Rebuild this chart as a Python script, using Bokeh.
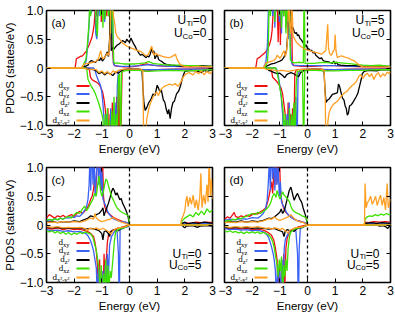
from bokeh.plotting import figure
from bokeh.layouts import column, row
from bokeh.models import Range1d, LinearAxis, FixedTicker, Span, Label, BoxAnnotation, ColumnDataSource
from bokeh.embed import file_html
from bokeh.resources import INLINE

# ---------------- tick labels / categories ----------------
ENERGY_TICKS = [-3, -2, -1, 0, 1, 2, 3]
ENERGY_TICK_LABELS = ["\u22123", "\u22122", "\u22121", "0", "1", "2", "3"]
PDOS_TICKS = [-1.0, -0.5, 0.0, 0.5, 1.0]
PDOS_TICK_LABELS = ["\u22121.0", "\u22120.5", "0", "0.5", "1.0"]
ORBITALS = ["xy", "yz", "z\u00b2", "xz", "x\u00b2-y\u00b2"]
COLORS = ["#f01010", "#3a62f5", "#000000", "#3ee000", "#ffa024"]
PANEL_TAGS = ["(a)", "(b)", "(c)", "(d)"]
U_TI = ["0", "5", "0", "0"]
U_CO = ["0", "0", "5", "5"]

# ---------------- panel (a): U_Ti=0, U_Co=0 ----------------
A_UP_XY = [(-3,0.0),(-2.0,0.0),(-1.96,0.02),(-1.92,0.16),(-1.85,0.18),(-1.78,0.2),(-1.7,0.21),(-1.62,0.26),(-1.55,0.3),(-1.5,0.36),(-1.45,0.41),(-1.4,0.48),(-1.36,0.53),(-1.32,0.62),(-1.28,0.75),(-1.25,0.95),(-1.22,1.4),(-1.18,0.9),(-1.14,1.6),(-1.1,1.1),(-1.06,1.8),(-1.02,0.8),(-0.98,1.5),(-0.94,1.2),(-0.9,2.0),(-0.86,1.3),(-0.82,0.9),(-0.78,1.7),(-0.74,1.1),(-0.7,0.7),(-0.66,1.6),(-0.62,0.4),(-0.58,0.08),(-0.54,0.04),(-0.4,0.03),(-0.2,0.02),(0,0.02),(0.2,0.03),(0.4,0.05),(0.6,0.07),(0.8,0.05),(1.0,0.04),(1.3,0.03),(1.6,0.03),(2.0,0.02),(2.5,0.02),(3,0.01)]
A_UP_YZ = [(-3,0.0),(-1.7,0.0),(-1.65,0.03),(-1.6,0.08),(-1.56,0.14),(-1.52,0.35),(-1.48,0.6),(-1.45,0.85),(-1.42,1.3),(-1.38,0.95),(-1.34,1.5),(-1.3,1.2),(-1.26,1.8),(-1.22,0.6),(-1.18,0.5),(-1.14,1.4),(-1.1,0.9),(-1.06,1.5),(-1.02,1.0),(-0.98,1.7),(-0.94,1.2),(-0.9,0.8),(-0.86,1.4),(-0.82,1.0),(-0.78,1.6),(-0.74,0.9),(-0.7,1.3),(-0.66,0.5),(-0.62,1.2),(-0.58,0.1),(-0.54,0.04),(-0.3,0.03),(0,0.03),(0.4,0.04),(0.7,0.06),(1.0,0.04),(1.5,0.03),(2.0,0.03),(2.5,0.02),(3,0.02)]
A_UP_Z2 = [(-3,0.0),(-1.7,0.0),(-1.6,0.03),(-1.5,0.05),(-1.45,0.1),(-1.38,0.13),(-1.3,0.11),(-1.22,0.1),(-1.15,0.15),(-1.08,0.13),(-1.03,0.18),(-0.98,0.12),(-0.92,0.16),(-0.86,0.22),(-0.8,0.28),(-0.76,0.2),(-0.72,0.5),(-0.69,1.5),(-0.66,0.3),(-0.62,0.35),(-0.56,0.33),(-0.5,0.37),(-0.44,0.4),(-0.37,0.42),(-0.3,0.45),(-0.25,0.48),(-0.2,0.46),(-0.15,0.44),(-0.1,0.5),(-0.05,0.47),(0.0,0.45),(0.05,0.52),(0.1,0.47),(0.15,0.42),(0.2,0.38),(0.25,0.33),(0.3,0.29),(0.35,0.25),(0.4,0.22),(0.45,0.24),(0.5,0.22),(0.55,0.2),(0.6,0.18),(0.65,0.21),(0.7,0.19),(0.75,0.24),(0.8,0.35),(0.84,0.26),(0.88,0.3),(0.92,0.16),(0.96,0.2),(1.0,0.24),(1.05,0.15),(1.1,0.13),(1.18,0.11),(1.25,0.08),(1.35,0.06),(1.5,0.05),(1.7,0.04),(2.0,0.03),(2.3,0.03),(2.6,0.04),(3,0.03)]
A_UP_XZ = [(-3,0.0),(-1.72,0.0),(-1.68,0.04),(-1.63,0.1),(-1.58,0.14),(-1.54,0.3),(-1.5,0.55),(-1.46,0.8),(-1.43,1.3),(-1.4,0.9),(-1.36,1.6),(-1.32,1.1),(-1.28,1.7),(-1.24,1.2),(-1.2,0.7),(-1.16,0.55),(-1.12,1.3),(-1.08,1.8),(-1.04,0.9),(-1.0,1.4),(-0.96,0.7),(-0.92,1.5),(-0.88,0.85),(-0.84,1.3),(-0.8,1.7),(-0.76,0.9),(-0.72,1.5),(-0.68,0.6),(-0.64,1.8),(-0.6,0.7),(-0.57,0.12),(-0.54,0.08),(-0.45,0.09),(-0.35,0.08),(-0.2,0.07),(0,0.07),(0.2,0.07),(0.4,0.08),(0.55,0.09),(0.7,0.11),(0.85,0.08),(1.0,0.07),(1.2,0.06),(1.5,0.05),(1.8,0.05),(2.1,0.04),(2.4,0.04),(2.7,0.03),(3,0.03)]
A_UP_X2Y2 = [(-3,0.0),(-1.75,0.0),(-1.7,0.03),(-1.62,0.07),(-1.5,0.08),(-1.4,0.09),(-1.3,0.1),(-1.2,0.12),(-1.12,0.16),(-1.08,0.24),(-1.04,0.3),(-1.0,0.2),(-0.95,0.16),(-0.9,0.19),(-0.85,0.22),(-0.8,0.26),(-0.75,0.22),(-0.7,0.6),(-0.66,1.5),(-0.62,1.2),(-0.58,0.9),(-0.54,0.8),(-0.5,0.62),(-0.45,0.55),(-0.4,0.52),(-0.35,0.5),(-0.3,0.46),(-0.25,0.43),(-0.2,0.42),(-0.15,0.4),(-0.1,0.38),(-0.05,0.37),(0,0.36),(0.1,0.34),(0.2,0.32),(0.3,0.3),(0.4,0.29),(0.5,0.25),(0.6,0.21),(0.68,0.24),(0.74,0.3),(0.8,0.38),(0.84,0.3),(0.88,0.22),(0.94,0.26),(1.0,0.23),(1.1,0.22),(1.2,0.2),(1.3,0.19),(1.4,0.18),(1.5,0.19),(1.6,0.22),(1.66,0.24),(1.72,0.15),(1.8,0.08),(1.9,0.04),(2.0,0.03),(2.2,0.02),(2.5,0.03),(2.8,0.02),(3,0.02)]
A_DN_XY = [(-3,0.0),(-1.5,0.0),(-1.45,-0.03),(-1.41,-0.16),(-1.36,-0.2),(-1.3,-0.22),(-1.22,-0.24),(-1.15,-0.26),(-1.08,-0.3),(-1.02,-0.36),(-0.97,-0.42),(-0.92,-0.55),(-0.88,-0.7),(-0.85,-0.85),(-0.82,-1.4),(-0.78,-0.7),(-0.74,-1.5),(-0.7,-0.8),(-0.66,-1.3),(-0.62,-0.6),(-0.58,-1.5),(-0.54,-0.9),(-0.5,-1.2),(-0.46,-0.5),(-0.42,-1.4),(-0.38,-0.3),(-0.34,-1.6),(-0.3,-0.9),(-0.27,-0.06),(-0.2,-0.03),(0,-0.02),(0.3,-0.02),(0.5,-0.04),(0.6,-0.06),(0.7,-0.04),(1.0,-0.03),(1.5,-0.02),(2.0,-0.02),(3,-0.01)]
A_DN_YZ = [(-3,0.0),(-1.3,0.0),(-1.25,-0.03),(-1.2,-0.12),(-1.12,-0.22),(-1.05,-0.3),(-1.0,-0.42),(-0.96,-0.62),(-0.92,-0.9),(-0.88,-1.4),(-0.84,-0.8),(-0.8,-1.5),(-0.76,-1.0),(-0.72,-1.6),(-0.68,-0.7),(-0.64,-1.3),(-0.6,-0.9),(-0.56,-1.5),(-0.52,-0.6),(-0.48,-1.4),(-0.44,-0.3),(-0.4,-0.05),(-0.3,-0.03),(0,-0.02),(0.5,-0.03),(1.0,-0.03),(2.0,-0.02),(3,-0.02)]
A_DN_Z2 = [(-3,0.0),(-1.6,0.0),(-1.5,-0.02),(-1.3,-0.03),(-1.2,-0.05),(-1.1,-0.1),(-1.0,-0.07),(-0.9,-0.12),(-0.8,-0.08),(-0.7,-0.1),(-0.6,-0.13),(-0.5,-0.07),(-0.4,-0.09),(-0.3,-0.05),(-0.2,-0.03),(0,-0.02),(0.3,-0.02),(0.45,-0.03),(0.48,-0.3),(0.52,-0.6),(0.57,-0.74),(0.63,-0.68),(0.7,-0.6),(0.77,-0.55),(0.85,-0.45),(0.92,-0.48),(1.0,-0.3),(1.05,-0.35),(1.1,-0.42),(1.15,-0.38),(1.22,-0.55),(1.28,-0.6),(1.32,-0.7),(1.38,-0.8),(1.42,-0.72),(1.47,-0.88),(1.52,-0.7),(1.57,-0.6),(1.62,-0.58),(1.7,-0.45),(1.78,-0.4),(1.85,-0.3),(1.9,-0.2),(1.95,-0.12),(2.0,-0.06),(2.2,-0.04),(2.4,-0.05),(2.6,-0.08),(2.7,-0.04),(2.8,-0.06),(3,-0.03)]
A_DN_XZ = [(-3,0.0),(-1.58,0.0),(-1.54,-0.04),(-1.5,-0.2),(-1.44,-0.26),(-1.38,-0.32),(-1.3,-0.38),(-1.24,-0.44),(-1.18,-0.52),(-1.12,-0.6),(-1.06,-0.7),(-1.0,-0.8),(-0.96,-0.9),(-0.92,-1.5),(-0.88,-0.8),(-0.84,-1.4),(-0.8,-0.7),(-0.76,-1.5),(-0.72,-0.9),(-0.68,-1.6),(-0.64,-0.75),(-0.6,-1.3),(-0.56,-0.5),(-0.52,-1.5),(-0.48,-0.8),(-0.44,-1.2),(-0.4,-0.15),(-0.36,-0.1),(-0.32,-1.5),(-0.29,-0.08),(-0.2,-0.05),(0,-0.04),(0.3,-0.04),(0.5,-0.05),(0.7,-0.06),(1.0,-0.05),(1.5,-0.04),(2.0,-0.05),(2.5,-0.04),(3,-0.03)]
A_DN_X2Y2 = [(-3,0.0),(-1.7,0.0),(-1.5,-0.02),(-1.2,-0.03),(-1.1,-0.08),(-1.0,-0.05),(-0.9,-0.1),(-0.8,-0.06),(-0.7,-0.12),(-0.6,-0.05),(-0.5,-0.08),(-0.4,-0.04),(-0.2,-0.02),(0.4,-0.02),(0.48,-0.05),(0.52,-1.5),(0.58,-1.3),(0.62,-0.9),(0.68,-0.75),(0.73,-0.65),(0.8,-0.56),(0.86,-0.5),(0.92,-0.45),(0.98,-0.42),(1.05,-0.48),(1.1,-0.4),(1.18,-0.35),(1.25,-0.32),(1.35,-0.3),(1.45,-0.28),(1.55,-0.3),(1.65,-0.27),(1.75,-0.32),(1.85,-0.25),(1.95,-0.15),(2.05,-0.1),(2.15,-0.08),(2.3,-0.12),(2.4,-0.06),(2.5,-0.1),(2.6,-0.05),(2.7,-0.12),(2.8,-0.06),(2.9,-0.1),(3,-0.05)]

# ---------------- panel (b): U_Ti=5, U_Co=0 ----------------
B_UP_XY = [(-3,0.0),(-1.9,0.0),(-1.86,0.03),(-1.82,0.16),(-1.75,0.18),(-1.65,0.22),(-1.55,0.26),(-1.45,0.32),(-1.38,0.4),(-1.32,0.5),(-1.28,0.65),(-1.25,0.9),(-1.22,1.5),(-1.18,1.0),(-1.14,1.6),(-1.1,1.2),(-1.06,0.45),(-1.02,1.5),(-0.98,0.4),(-0.94,1.3),(-0.9,1.8),(-0.86,0.9),(-0.82,1.4),(-0.78,1.1),(-0.74,1.7),(-0.7,0.8),(-0.66,1.4),(-0.62,0.9),(-0.58,1.2),(-0.55,0.1),(-0.5,0.04),(-0.2,0.03),(0.2,0.03),(0.6,0.04),(1.0,0.04),(1.5,0.03),(2.0,0.02),(3,0.02)]
B_UP_YZ = [(-3,0.0),(-1.6,0.0),(-1.55,0.05),(-1.5,0.12),(-1.45,0.4),(-1.42,0.9),(-1.38,1.5),(-1.34,1.1),(-1.3,1.7),(-1.26,0.9),(-1.22,1.4),(-1.18,0.7),(-1.14,1.5),(-1.1,1.0),(-1.06,1.6),(-1.02,0.8),(-0.98,1.3),(-0.94,0.6),(-0.9,1.5),(-0.86,1.0),(-0.82,1.4),(-0.78,0.7),(-0.74,1.2),(-0.7,0.5),(-0.66,1.4),(-0.62,0.4),(-0.58,0.1),(-0.54,0.05),(-0.3,0.04),(0,0.04),(0.5,0.04),(1.0,0.04),(1.5,0.03),(2,0.03),(2.5,0.03),(3,0.02)]
B_UP_Z2 = [(-3,0.0),(-1.55,0.0),(-1.5,0.03),(-1.4,0.05),(-1.3,0.07),(-1.2,0.08),(-1.1,0.1),(-1.0,0.12),(-0.92,0.14),(-0.86,0.18),(-0.8,0.24),(-0.76,0.3),(-0.72,0.55),(-0.68,1.4),(-0.64,0.9),(-0.6,0.75),(-0.56,0.68),(-0.52,0.7),(-0.48,0.63),(-0.44,0.6),(-0.4,0.62),(-0.36,0.56),(-0.32,0.58),(-0.28,0.52),(-0.24,0.5),(-0.2,0.47),(-0.16,0.44),(-0.12,0.42),(-0.08,0.38),(-0.04,0.4),(0,0.34),(0.05,0.33),(0.1,0.3),(0.15,0.31),(0.2,0.26),(0.25,0.28),(0.3,0.22),(0.35,0.2),(0.4,0.18),(0.45,0.16),(0.5,0.18),(0.55,0.14),(0.6,0.12),(0.7,0.11),(0.8,0.1),(0.9,0.08),(0.95,0.12),(1.0,0.07),(1.05,0.1),(1.1,0.06),(1.2,0.05),(1.4,0.04),(1.7,0.04),(2.0,0.03),(2.5,0.03),(3,0.03)]
B_UP_XZ = [(-3,0.0),(-1.55,0.0),(-1.5,0.05),(-1.45,0.1),(-1.42,0.3),(-1.4,0.8),(-1.38,1.5),(-1.34,0.9),(-1.3,1.6),(-1.26,1.1),(-1.22,1.7),(-1.18,0.8),(-1.14,1.4),(-1.1,1.0),(-1.06,1.8),(-1.02,0.9),(-0.98,1.3),(-0.94,0.7),(-0.9,1.6),(-0.86,0.9),(-0.82,1.5),(-0.78,0.6),(-0.74,1.3),(-0.7,0.8),(-0.66,1.6),(-0.62,0.15),(-0.55,0.1),(-0.45,0.09),(-0.3,0.1),(-0.15,0.09),(-0.12,1.5),(-0.09,0.08),(0,0.08),(0.2,0.08),(0.4,0.09),(0.6,0.1),(0.8,0.09),(1.0,0.1),(1.2,0.09),(1.4,0.08),(1.6,0.07),(1.8,0.06),(2.0,0.05),(2.3,0.04),(2.6,0.05),(3,0.03)]
B_UP_X2Y2 = [(-3,0.0),(-1.6,0.0),(-1.55,0.04),(-1.5,0.09),(-1.4,0.1),(-1.3,0.12),(-1.22,0.13),(-1.15,0.16),(-1.1,0.22),(-1.05,0.2),(-1.0,0.17),(-0.95,0.2),(-0.9,0.26),(-0.85,0.3),(-0.8,0.2),(-0.76,0.28),(-0.72,0.5),(-0.68,1.3),(-0.64,0.8),(-0.6,0.6),(-0.56,1.1),(-0.52,0.55),(-0.46,0.5),(-0.4,0.45),(-0.35,0.42),(-0.3,0.4),(-0.25,0.38),(-0.2,0.36),(-0.1,0.33),(0,0.31),(0.1,0.3),(0.2,0.28),(0.3,0.27),(0.4,0.26),(0.5,0.24),(0.6,0.28),(0.66,0.3),(0.7,0.55),(0.73,0.76),(0.76,0.35),(0.8,0.25),(0.86,0.22),(0.92,0.28),(0.97,0.32),(1.0,0.58),(1.03,0.3),(1.08,0.18),(1.15,0.2),(1.22,0.21),(1.3,0.2),(1.4,0.18),(1.5,0.17),(1.6,0.14),(1.7,0.12),(1.8,0.08),(1.9,0.04),(2.0,0.02),(2.5,0.02),(3,0.02)]
B_DN_XY = [(-3,0.0),(-1.35,0.0),(-1.3,-0.05),(-1.26,-0.16),(-1.18,-0.2),(-1.1,-0.24),(-1.02,-0.3),(-0.96,-0.34),(-0.9,-0.45),(-0.86,-0.6),(-0.82,-0.75),(-0.78,-0.9),(-0.74,-1.4),(-0.7,-0.6),(-0.66,-1.5),(-0.62,-0.8),(-0.58,-1.3),(-0.54,-0.7),(-0.5,-1.5),(-0.46,-0.1),(-0.4,-0.03),(0,-0.02),(0.5,-0.02),(0.7,-0.04),(1.0,-0.03),(1.5,-0.02),(2.0,-0.02),(3,-0.01)]
B_DN_YZ = [(-3,0.0),(-1.15,0.0),(-1.1,-0.04),(-1.05,-0.15),(-1.0,-0.3),(-0.95,-0.5),(-0.9,-0.8),(-0.86,-1.4),(-0.82,-0.9),(-0.78,-1.5),(-0.74,-0.8),(-0.7,-1.3),(-0.66,-0.6),(-0.62,-1.5),(-0.58,-0.9),(-0.54,-1.4),(-0.5,-0.7),(-0.46,-1.3),(-0.42,-0.5),(-0.38,-1.5),(-0.34,-0.1),(-0.25,-0.03),(0,-0.02),(1.0,-0.03),(2.0,-0.02),(3,-0.02)]
B_DN_Z2 = [(-3,0.0),(-1.5,0.0),(-1.4,-0.04),(-1.3,-0.06),(-1.2,-0.08),(-1.1,-0.1),(-1.0,-0.09),(-0.9,-0.13),(-0.82,-0.17),(-0.76,-0.12),(-0.7,-0.1),(-0.6,-0.08),(-0.5,-0.1),(-0.4,-0.13),(-0.32,-0.15),(-0.25,-0.08),(-0.15,-0.05),(-0.05,-0.03),(0.3,-0.02),(0.55,-0.03),(0.6,-0.08),(0.63,-0.37),(0.67,-0.6),(0.72,-0.56),(0.78,-0.54),(0.84,-0.5),(0.9,-0.46),(0.96,-0.45),(1.02,-0.44),(1.08,-0.43),(1.12,-0.28),(1.16,-0.32),(1.2,-0.4),(1.26,-0.52),(1.32,-0.56),(1.36,-0.66),(1.4,-0.7),(1.44,-0.82),(1.48,-0.78),(1.52,-0.66),(1.58,-0.64),(1.64,-0.6),(1.7,-0.55),(1.76,-0.5),(1.82,-0.44),(1.88,-0.32),(1.94,-0.2),(1.98,-0.1),(2.05,-0.06),(2.2,-0.04),(2.5,-0.05),(2.7,-0.03),(3,-0.03)]
B_DN_XZ = [(-3,0.0),(-1.15,0.0),(-1.1,-0.08),(-1.05,-0.2),(-1.0,-0.35),(-0.96,-0.45),(-0.92,-0.6),(-0.88,-0.75),(-0.85,-1.4),(-0.81,-0.8),(-0.77,-1.5),(-0.73,-0.9),(-0.69,-1.6),(-0.65,-0.7),(-0.61,-1.5),(-0.57,-0.8),(-0.53,-1.3),(-0.49,-0.6),(-0.45,-1.4),(-0.41,-0.3),(-0.37,-0.06),(-0.3,-0.05),(-0.18,-0.05),(-0.14,-1.5),(-0.1,-0.05),(0,-0.04),(0.3,-0.04),(0.6,-0.05),(1.0,-0.05),(1.5,-0.04),(2.0,-0.04),(2.5,-0.03),(3,-0.03)]
B_DN_X2Y2 = [(-3,0.0),(-1.6,0.0),(-1.5,-0.02),(-1.3,-0.03),(-1.1,-0.05),(-0.9,-0.04),(-0.7,-0.06),(-0.5,-0.04),(-0.3,-0.03),(0,-0.02),(0.5,-0.02),(0.6,-0.04),(0.64,-0.5),(0.67,-1.5),(0.7,-1.3),(0.74,-0.92),(0.78,-0.78),(0.84,-0.7),(0.9,-0.66),(0.96,-0.62),(1.02,-0.6),(1.08,-0.58),(1.14,-0.54),(1.2,-0.5),(1.26,-0.47),(1.32,-0.44),(1.38,-0.42),(1.44,-0.4),(1.5,-0.36),(1.56,-0.33),(1.62,-0.3),(1.68,-0.28),(1.74,-0.25),(1.8,-0.2),(1.86,-0.14),(1.92,-0.12),(2.0,-0.18),(2.08,-0.12),(2.16,-0.09),(2.24,-0.15),(2.32,-0.1),(2.4,-0.2),(2.48,-0.12),(2.56,-0.08),(2.64,-0.16),(2.72,-0.1),(2.8,-0.14),(2.88,-0.07),(2.96,-0.1),(3,-0.06)]

# ---------------- panel (c): U_Ti=0, U_Co=5 ----------------
C_UP_XY = [(-3,0.12),(-2.9,0.18),(-2.8,0.15),(-2.7,0.12),(-2.6,0.16),(-2.5,0.14),(-2.4,0.17),(-2.3,0.13),(-2.2,0.16),(-2.1,0.18),(-2.0,0.15),(-1.9,0.2),(-1.8,0.24),(-1.7,0.2),(-1.6,0.25),(-1.5,0.32),(-1.45,0.38),(-1.4,0.45),(-1.35,0.5),(-1.3,0.62),(-1.26,0.8),(-1.22,0.55),(-1.18,1.0),(-1.14,1.6),(-1.1,0.9),(-1.06,1.8),(-1.02,0.6),(-0.98,1.3),(-0.94,0.5),(-0.9,0.32),(-0.85,0.26),(-0.8,0.22),(-0.7,0.18),(-0.6,0.14),(-0.5,0.11),(-0.4,0.09),(-0.3,0.07),(-0.2,0.05),(-0.1,0.04),(0,0.0),(1.85,0.0),(1.9,0.03),(2.0,0.04),(2.2,0.03),(2.4,0.05),(2.6,0.04),(2.8,0.05),(3,0.04)]
C_UP_YZ = [(-3,0.07),(-2.9,0.09),(-2.8,0.08),(-2.7,0.11),(-2.6,0.09),(-2.5,0.12),(-2.4,0.1),(-2.3,0.13),(-2.2,0.12),(-2.1,0.14),(-2.0,0.13),(-1.9,0.16),(-1.8,0.15),(-1.7,0.2),(-1.62,0.26),(-1.55,0.32),(-1.5,0.45),(-1.46,0.7),(-1.43,1.2),(-1.4,0.6),(-1.36,1.5),(-1.32,0.7),(-1.28,1.1),(-1.24,0.5),(-1.2,0.9),(-1.16,1.4),(-1.12,0.7),(-1.08,1.3),(-1.04,0.6),(-1.0,0.95),(-0.96,0.45),(-0.9,0.38),(-0.85,0.32),(-0.8,0.25),(-0.75,0.2),(-0.7,0.17),(-0.62,0.12),(-0.55,0.1),(-0.45,0.08),(-0.3,0.06),(-0.15,0.05),(-0.05,0.03),(0,0.0),(1.85,0.0),(1.9,0.02),(2.2,0.03),(2.5,0.02),(2.8,0.03),(3,0.02)]
C_UP_Z2 = [(-3,0.05),(-2.8,0.06),(-2.6,0.04),(-2.4,0.06),(-2.2,0.05),(-2.0,0.07),(-1.8,0.06),(-1.7,0.08),(-1.6,0.1),(-1.5,0.12),(-1.4,0.16),(-1.3,0.14),(-1.2,0.18),(-1.1,0.2),(-1.0,0.26),(-0.96,0.3),(-0.92,0.16),(-0.88,0.22),(-0.82,0.3),(-0.76,0.38),(-0.7,0.48),(-0.65,0.58),(-0.6,0.64),(-0.55,0.6),(-0.5,0.52),(-0.45,0.56),(-0.4,0.5),(-0.35,0.44),(-0.3,0.46),(-0.25,0.38),(-0.2,0.33),(-0.15,0.28),(-0.1,0.22),(-0.05,0.14),(0,0.0),(1.85,0.0),(1.9,0.03),(2.0,0.05),(2.1,0.02),(2.3,0.04),(2.5,0.03),(2.7,0.05),(3,0.03)]
C_UP_XZ = [(-3,0.08),(-2.9,0.1),(-2.8,0.08),(-2.7,0.11),(-2.6,0.09),(-2.5,0.12),(-2.4,0.1),(-2.3,0.13),(-2.2,0.15),(-2.1,0.12),(-2.0,0.18),(-1.9,0.22),(-1.8,0.2),(-1.7,0.28),(-1.62,0.33),(-1.55,0.25),(-1.48,0.3),(-1.4,0.38),(-1.32,0.45),(-1.26,0.55),(-1.2,0.5),(-1.15,0.7),(-1.1,0.85),(-1.05,0.6),(-1.0,0.5),(-0.95,0.56),(-0.9,0.7),(-0.85,0.8),(-0.8,0.76),(-0.75,0.66),(-0.7,0.58),(-0.65,0.5),(-0.6,0.45),(-0.55,0.4),(-0.5,0.34),(-0.45,0.3),(-0.4,0.27),(-0.3,0.23),(-0.2,0.2),(-0.1,0.18),(-0.03,0.15),(0,0.0),(1.85,0.0),(1.9,0.07),(2.0,0.12),(2.1,0.15),(2.2,0.18),(2.3,0.14),(2.4,0.22),(2.5,0.17),(2.6,0.24),(2.7,0.18),(2.8,0.28),(2.9,0.22),(3,0.26)]
C_UP_X2Y2 = [(-3,0.04),(-2.8,0.05),(-2.6,0.04),(-2.4,0.06),(-2.2,0.05),(-2.0,0.06),(-1.8,0.05),(-1.6,0.07),(-1.5,0.1),(-1.4,0.12),(-1.3,0.1),(-1.25,0.2),(-1.2,0.12),(-1.1,0.08),(-1.0,0.06),(-0.9,0.07),(-0.8,0.09),(-0.7,0.1),(-0.6,0.13),(-0.5,0.1),(-0.4,0.07),(-0.3,0.05),(-0.15,0.03),(0,0.0),(1.85,0.0),(1.88,0.1),(1.94,0.16),(2.0,0.25),(2.04,0.43),(2.08,0.5),(2.12,0.32),(2.18,0.48),(2.24,0.36),(2.3,0.52),(2.36,0.3),(2.42,0.44),(2.48,0.26),(2.54,0.48),(2.58,0.9),(2.62,0.3),(2.68,0.52),(2.74,0.36),(2.8,0.7),(2.84,0.4),(2.88,1.2),(2.92,0.5),(2.96,0.8),(3,0.45)]
C_DN_XY = [(-3,-0.05),(-2.8,-0.07),(-2.6,-0.05),(-2.4,-0.08),(-2.2,-0.06),(-2.0,-0.08),(-1.8,-0.07),(-1.6,-0.1),(-1.5,-0.12),(-1.4,-0.15),(-1.3,-0.2),(-1.25,-0.3),(-1.2,-0.45),(-1.16,-0.7),(-1.12,-1.2),(-1.08,-0.6),(-1.04,-1.4),(-1.0,-0.8),(-0.96,-1.3),(-0.92,-0.5),(-0.88,-1.1),(-0.84,-0.6),(-0.8,-0.3),(-0.75,-0.15),(-0.65,-0.1),(-0.5,-0.07),(-0.4,-0.05),(-0.3,-0.04),(0,0.0),(3,0.0)]
C_DN_YZ = [(-3,-0.08),(-2.8,-0.1),(-2.6,-0.09),(-2.4,-0.11),(-2.2,-0.1),(-2.0,-0.12),(-1.8,-0.11),(-1.6,-0.14),(-1.5,-0.19),(-1.42,-0.26),(-1.36,-0.34),(-1.3,-0.45),(-1.25,-0.6),(-1.2,-0.75),(-1.16,-1.3),(-1.12,-0.7),(-1.08,-1.4),(-1.04,-0.9),(-1.0,-1.5),(-0.96,-0.8),(-0.92,-1.3),(-0.88,-0.7),(-0.84,-1.2),(-0.8,-0.5),(-0.76,-0.9),(-0.72,-0.35),(-0.65,-0.2),(-0.55,-0.12),(-0.45,-0.1),(-0.4,-0.5),(-0.37,-1.5),(-0.34,-0.08),(-0.2,-0.05),(-0.05,-0.03),(0,0.0),(3,0.0)]
C_DN_Z2 = [(-3,-0.04),(-2.8,-0.05),(-2.6,-0.04),(-2.4,-0.06),(-2.2,-0.05),(-2.0,-0.06),(-1.8,-0.05),(-1.6,-0.07),(-1.4,-0.06),(-1.2,-0.08),(-1.1,-0.1),(-1.0,-0.15),(-0.96,-0.26),(-0.92,-0.12),(-0.85,-0.1),(-0.78,-0.14),(-0.72,-0.2),(-0.68,-0.12),(-0.6,-0.09),(-0.5,-0.08),(-0.4,-0.1),(-0.3,-0.06),(-0.2,-0.04),(0,0.0),(1.9,0.0),(1.95,-0.03),(2.0,-0.05),(2.05,-0.02),(2.3,-0.01),(2.45,-0.04),(2.55,-0.02),(2.8,-0.01),(3,-0.02)]
C_DN_XZ = [(-3,-0.1),(-2.9,-0.12),(-2.8,-0.1),(-2.7,-0.14),(-2.6,-0.11),(-2.5,-0.15),(-2.4,-0.12),(-2.3,-0.16),(-2.2,-0.13),(-2.1,-0.17),(-2.0,-0.14),(-1.9,-0.16),(-1.8,-0.13),(-1.7,-0.15),(-1.6,-0.12),(-1.5,-0.14),(-1.4,-0.16),(-1.32,-0.22),(-1.26,-0.33),(-1.2,-0.45),(-1.14,-0.63),(-1.1,-0.8),(-1.06,-1.3),(-1.02,-0.7),(-0.98,-1.5),(-0.94,-0.85),(-0.9,-1.2),(-0.86,-0.6),(-0.82,-1.4),(-0.78,-0.7),(-0.74,-1.1),(-0.7,-0.8),(-0.66,-0.92),(-0.6,-0.6),(-0.55,-0.3),(-0.5,-0.12),(-0.4,-0.08),(-0.3,-0.06),(-0.15,-0.04),(0,0.0),(3,0.0)]
C_DN_X2Y2 = [(-3,-0.03),(-2.8,-0.04),(-2.6,-0.03),(-2.4,-0.05),(-2.2,-0.04),(-2.0,-0.05),(-1.8,-0.04),(-1.6,-0.06),(-1.5,-0.1),(-1.45,-0.06),(-1.3,-0.07),(-1.2,-0.05),(-1.1,-0.08),(-0.95,-0.06),(-0.8,-0.1),(-0.7,-0.14),(-0.66,-0.16),(-0.6,-0.1),(-0.5,-0.07),(-0.4,-0.05),(-0.3,-0.04),(-0.15,-0.03),(0,0.0),(3,0.0)]

# ---------------- panel (d): U_Ti=0, U_Co=5 ----------------
D_UP_XY = [(-3,0.1),(-2.9,0.14),(-2.8,0.12),(-2.7,0.18),(-2.65,0.22),(-2.6,0.15),(-2.5,0.13),(-2.4,0.16),(-2.3,0.14),(-2.2,0.17),(-2.1,0.15),(-2.0,0.18),(-1.9,0.2),(-1.8,0.19),(-1.7,0.23),(-1.6,0.26),(-1.5,0.3),(-1.45,0.38),(-1.4,0.48),(-1.35,0.6),(-1.3,0.75),(-1.26,0.55),(-1.22,0.9),(-1.18,1.3),(-1.14,0.7),(-1.1,1.6),(-1.06,0.8),(-1.02,1.4),(-0.98,0.6),(-0.94,0.45),(-0.9,0.35),(-0.85,0.28),(-0.8,0.23),(-0.7,0.18),(-0.6,0.14),(-0.5,0.11),(-0.4,0.08),(-0.3,0.07),(-0.2,0.05),(-0.1,0.04),(0,0.0),(2.05,0.0),(2.08,0.05),(2.2,0.04),(2.4,0.06),(2.6,0.05),(2.8,0.06),(3,0.05)]
D_UP_YZ = [(-3,0.08),(-2.8,0.1),(-2.6,0.09),(-2.4,0.11),(-2.2,0.1),(-2.0,0.13),(-1.8,0.12),(-1.7,0.15),(-1.6,0.2),(-1.52,0.28),(-1.46,0.42),(-1.42,0.7),(-1.38,1.1),(-1.34,0.6),(-1.3,1.5),(-1.26,0.8),(-1.22,1.3),(-1.18,0.6),(-1.14,1.2),(-1.1,0.7),(-1.06,1.0),(-1.02,0.5),(-0.98,0.75),(-0.94,0.4),(-0.88,0.34),(-0.82,0.28),(-0.76,0.22),(-0.7,0.18),(-0.6,0.14),(-0.5,0.1),(-0.4,0.08),(-0.25,0.06),(-0.1,0.04),(0,0.0),(2.05,0.0),(2.08,0.03),(2.4,0.03),(2.7,0.02),(3,0.03)]
D_UP_Z2 = [(-3,0.04),(-2.8,0.06),(-2.6,0.05),(-2.4,0.07),(-2.2,0.05),(-2.0,0.07),(-1.8,0.06),(-1.6,0.08),(-1.5,0.1),(-1.4,0.12),(-1.3,0.11),(-1.2,0.14),(-1.1,0.18),(-1.0,0.22),(-0.95,0.28),(-0.9,0.2),(-0.84,0.25),(-0.78,0.36),(-0.72,0.48),(-0.66,0.6),(-0.6,0.66),(-0.56,0.58),(-0.52,0.5),(-0.48,0.43),(-0.44,0.48),(-0.4,0.52),(-0.36,0.55),(-0.32,0.5),(-0.28,0.45),(-0.24,0.42),(-0.2,0.38),(-0.16,0.3),(-0.12,0.24),(-0.08,0.18),(-0.04,0.1),(0,0.0),(2.05,0.0),(2.1,0.03),(2.3,0.04),(2.5,0.03),(2.7,0.04),(3,0.03)]
D_UP_XZ = [(-3,0.06),(-2.9,0.08),(-2.8,0.07),(-2.7,0.1),(-2.6,0.09),(-2.5,0.12),(-2.4,0.11),(-2.3,0.14),(-2.2,0.15),(-2.1,0.18),(-2.0,0.2),(-1.9,0.18),(-1.8,0.22),(-1.7,0.2),(-1.6,0.24),(-1.5,0.27),(-1.4,0.32),(-1.32,0.4),(-1.26,0.5),(-1.2,0.55),(-1.14,0.48),(-1.1,0.6),(-1.05,0.52),(-1.0,0.45),(-0.95,0.5),(-0.9,0.58),(-0.85,0.52),(-0.8,0.5),(-0.75,0.47),(-0.7,0.44),(-0.65,0.4),(-0.6,0.33),(-0.55,0.27),(-0.5,0.24),(-0.4,0.21),(-0.3,0.19),(-0.2,0.16),(-0.1,0.14),(-0.03,0.12),(0,0.0),(2.05,0.0),(2.08,0.1),(2.15,0.14),(2.25,0.16),(2.35,0.15),(2.45,0.18),(2.55,0.16),(2.65,0.19),(2.75,0.17),(2.85,0.2),(2.95,0.18),(3,0.19)]
D_UP_X2Y2 = [(-3,0.04),(-2.8,0.05),(-2.6,0.04),(-2.4,0.06),(-2.2,0.05),(-2.0,0.06),(-1.8,0.05),(-1.6,0.07),(-1.5,0.09),(-1.4,0.11),(-1.3,0.1),(-1.2,0.14),(-1.1,0.1),(-1.0,0.08),(-0.9,0.1),(-0.8,0.12),(-0.7,0.14),(-0.6,0.18),(-0.5,0.12),(-0.4,0.08),(-0.3,0.06),(-0.15,0.04),(0,0.0),(2.06,0.0),(2.08,0.72),(2.12,0.3),(2.16,0.38),(2.22,0.43),(2.28,0.5),(2.34,0.36),(2.4,0.42),(2.46,0.5),(2.52,0.34),(2.58,0.44),(2.64,0.52),(2.7,0.34),(2.76,0.48),(2.82,0.26),(2.88,0.72),(2.92,0.3),(2.96,0.38),(3,0.45)]
D_DN_XY = [(-3,-0.05),(-2.8,-0.07),(-2.6,-0.05),(-2.4,-0.07),(-2.2,-0.06),(-2.0,-0.08),(-1.8,-0.07),(-1.6,-0.09),(-1.5,-0.11),(-1.4,-0.14),(-1.3,-0.18),(-1.22,-0.26),(-1.16,-0.4),(-1.1,-0.6),(-1.06,-1.2),(-1.02,-0.7),(-0.98,-1.5),(-0.94,-0.8),(-0.9,-1.3),(-0.86,-0.5),(-0.82,-1.1),(-0.78,-0.4),(-0.74,-0.25),(-0.68,-0.15),(-0.6,-0.1),(-0.5,-0.07),(-0.4,-0.05),(-0.3,-0.03),(0,0.0),(3,0.0)]
D_DN_YZ = [(-3,-0.06),(-2.8,-0.08),(-2.6,-0.07),(-2.4,-0.09),(-2.2,-0.08),(-2.0,-0.1),(-1.8,-0.09),(-1.6,-0.12),(-1.5,-0.15),(-1.42,-0.2),(-1.36,-0.28),(-1.3,-0.38),(-1.24,-0.5),(-1.2,-0.62),(-1.16,-0.8),(-1.12,-1.3),(-1.08,-0.7),(-1.04,-1.5),(-1.0,-0.8),(-0.96,-1.4),(-0.92,-0.6),(-0.88,-1.1),(-0.84,-0.4),(-0.8,-0.25),(-0.7,-0.15),(-0.6,-0.1),(-0.5,-0.08),(-0.42,-0.1),(-0.36,-0.5),(-0.33,-1.5),(-0.3,-0.4),(-0.26,-0.06),(-0.15,-0.04),(0,0.0),(3,0.0)]
D_DN_Z2 = [(-3,-0.04),(-2.8,-0.05),(-2.6,-0.04),(-2.4,-0.05),(-2.2,-0.04),(-2.0,-0.06),(-1.8,-0.05),(-1.6,-0.06),(-1.4,-0.07),(-1.2,-0.06),(-1.1,-0.08),(-1.0,-0.1),(-0.9,-0.12),(-0.85,-0.2),(-0.8,-0.1),(-0.72,-0.08),(-0.64,-0.1),(-0.56,-0.09),(-0.48,-0.11),(-0.4,-0.07),(-0.3,-0.05),(-0.2,-0.04),(0,0.0),(2.5,0.0),(2.6,-0.02),(2.75,-0.01),(2.85,-0.04),(2.9,-0.06),(2.95,-0.03),(3,-0.02)]
D_DN_XZ = [(-3,-0.1),(-2.9,-0.12),(-2.8,-0.1),(-2.7,-0.13),(-2.6,-0.11),(-2.5,-0.14),(-2.4,-0.12),(-2.3,-0.15),(-2.2,-0.12),(-2.1,-0.14),(-2.0,-0.12),(-1.9,-0.14),(-1.8,-0.12),(-1.7,-0.15),(-1.6,-0.13),(-1.5,-0.15),(-1.4,-0.17),(-1.32,-0.22),(-1.25,-0.3),(-1.2,-0.4),(-1.15,-0.55),(-1.1,-0.7),(-1.06,-0.9),(-1.02,-0.6),(-0.98,-0.8),(-0.94,-0.55),(-0.9,-1.2),(-0.86,-0.7),(-0.82,-0.9),(-0.78,-0.6),(-0.74,-0.8),(-0.7,-0.4),(-0.65,-0.2),(-0.6,-0.12),(-0.5,-0.08),(-0.4,-0.06),(-0.2,-0.04),(0,0.0),(3,0.0)]
D_DN_X2Y2 = [(-3,-0.03),(-2.8,-0.04),(-2.6,-0.03),(-2.4,-0.04),(-2.2,-0.03),(-2.0,-0.04),(-1.8,-0.03),(-1.6,-0.05),(-1.5,-0.06),(-1.4,-0.05),(-1.3,-0.07),(-1.2,-0.05),(-1.1,-0.06),(-1.0,-0.08),(-0.9,-0.06),(-0.8,-0.1),(-0.7,-0.14),(-0.65,-0.1),(-0.55,-0.07),(-0.45,-0.05),(-0.3,-0.04),(-0.15,-0.03),(0,0.0),(3,0.0)]

PANEL_UP = [
    [A_UP_XY, A_UP_YZ, A_UP_Z2, A_UP_XZ, A_UP_X2Y2],
    [B_UP_XY, B_UP_YZ, B_UP_Z2, B_UP_XZ, B_UP_X2Y2],
    [C_UP_XY, C_UP_YZ, C_UP_Z2, C_UP_XZ, C_UP_X2Y2],
    [D_UP_XY, D_UP_YZ, D_UP_Z2, D_UP_XZ, D_UP_X2Y2],
]
PANEL_DN = [
    [A_DN_XY, A_DN_YZ, A_DN_Z2, A_DN_XZ, A_DN_X2Y2],
    [B_DN_XY, B_DN_YZ, B_DN_Z2, B_DN_XZ, B_DN_X2Y2],
    [C_DN_XY, C_DN_YZ, C_DN_Z2, C_DN_XZ, C_DN_X2Y2],
    [D_DN_XY, D_DN_YZ, D_DN_Z2, D_DN_XZ, D_DN_X2Y2],
]

# ---------------- styling ----------------
SANS = "Liberation Sans"
SERIF = "Liberation Serif"
FW, FH = 166, 115
SANS_W = {"U": 0.722, "T": 0.611, "i": 0.222, "C": 0.722, "o": 0.556, "=": 0.584, "0": 0.556, "5": 0.556}
SERIF_W = {"d": 0.5, "x": 0.5, "y": 0.5, "z": 0.444, "\u00b2": 0.3, "-": 0.333}


def tw(s, size, table):
    return sum(table.get(c, 0.5) for c in s) * size


def style_axis(ax, ticks, labels, show_labels):
    ax.ticker = FixedTicker(ticks=ticks)
    if show_labels:
        ax.major_label_overrides = {t: l for t, l in zip(ticks, labels)}
    else:
        ax.major_label_overrides = {t: "" for t in ticks}
    ax.major_label_text_font = SANS
    ax.major_label_text_font_size = "12px"
    ax.major_label_text_color = "black"
    ax.major_tick_in = 4
    ax.major_tick_out = 0
    ax.minor_tick_in = 0
    ax.minor_tick_out = 0
    ax.major_tick_line_color = "black"
    ax.axis_line_color = None
    ax.axis_label_text_font = SANS
    ax.axis_label_text_font_size = "11.5px"
    ax.axis_label_text_font_style = "normal"
    ax.axis_label_text_color = "black"


def make_panel(i, left_labels, upper):
    p = figure(frame_width=FW, frame_height=FH, x_range=Range1d(-3, 3), y_range=Range1d(-1, 1),
               output_backend="svg", toolbar_location=None,
               min_border_left=42 if left_labels else 6,
               min_border_right=6 if left_labels else 8,
               min_border_top=10 if upper else 9,
               min_border_bottom=33)
    p.grid.visible = False
    p.outline_line_color = "black"
    p.outline_line_width = 1.6
    p.background_fill_color = "white"
    p.border_fill_color = "white"

    for k in range(5):
        for series in (PANEL_UP[i][k], PANEL_DN[i][k]):
            src = ColumnDataSource(dict(e=[s[0] for s in series], v=[s[1] for s in series]))
            p.line("e", "v", source=src, line_color=COLORS[k], line_width=1.3)

    xa = p.xaxis[0]
    style_axis(xa, ENERGY_TICKS, ENERGY_TICK_LABELS, True)
    xa.axis_label = "Energy (eV)"
    xa.major_label_standoff = 3
    xa.axis_label_standoff = 2

    ya = p.yaxis[0]
    style_axis(ya, PDOS_TICKS, PDOS_TICK_LABELS, left_labels)
    if left_labels:
        ya.axis_label = "PDOS (states/eV)"
        ya.major_label_standoff = 3
        ya.axis_label_standoff = 1
    else:
        ya.major_label_standoff = 0

    ra = LinearAxis()
    style_axis(ra, PDOS_TICKS, PDOS_TICK_LABELS, False)
    ra.major_label_standoff = 0
    p.add_layout(ra, "right")
    ta = LinearAxis()
    style_axis(ta, ENERGY_TICKS, ENERGY_TICK_LABELS, False)
    ta.major_label_standoff = 0
    p.add_layout(ta, "above")

    p.add_layout(Span(location=0, dimension="height", line_color="black", line_dash="3 3", line_width=1.3))

    # panel tag
    p.add_layout(Label(x=5, y=FH - 12, x_units="screen", y_units="screen", text=PANEL_TAGS[i],
                       text_font=SANS, text_font_size="11.5px", text_baseline="middle", text_align="left",
                       text_color="black"))

    # U labels
    if upper:
        xr, rows = FW - 6, [FH - 9.5, FH - 22.5]
    else:
        xr, rows = FW - 11, [29, 18]
    for (sub, val), yy in zip([("Ti", U_TI[i]), ("Co", U_CO[i])], rows):
        tail = "=" + val
        w_tail = tw(tail, 12, SANS_W)
        w_sub = tw(sub, 8, SANS_W)
        p.add_layout(Label(x=xr, y=yy, x_units="screen", y_units="screen", text=tail, text_font=SANS,
                           text_font_size="12px", text_align="right", text_baseline="middle", text_color="black"))
        p.add_layout(Label(x=xr - w_tail, y=yy - 3, x_units="screen", y_units="screen", text=sub, text_font=SANS,
                           text_font_size="8px", text_align="right", text_baseline="middle", text_color="black"))
        p.add_layout(Label(x=xr - w_tail - w_sub, y=yy, x_units="screen", y_units="screen", text="U",
                           text_font=SANS, text_font_size="12px", text_align="right", text_baseline="middle",
                           text_color="black"))

    # legend (label left of line sample)
    legend_rows = [39.5, 31.5, 22.5, 14, 5]
    for k, yy in enumerate(legend_rows):
        sub = ORBITALS[k]
        w_sub = tw(sub, 6.5, SERIF_W)
        p.add_layout(Label(x=23, y=yy - 1.8, x_units="screen", y_units="screen", text=sub, text_font=SERIF,
                           text_font_size="6.5px", text_align="right", text_baseline="middle", text_color="black"))
        p.add_layout(Label(x=23 - w_sub, y=yy + 1, x_units="screen", y_units="screen", text="d", text_font=SERIF,
                           text_font_size="9px", text_align="right", text_baseline="middle", text_color="black"))
        p.add_layout(BoxAnnotation(left=30, right=43, bottom=yy - 0.9, top=yy + 0.9,
                                   left_units="screen", right_units="screen", bottom_units="screen",
                                   top_units="screen", fill_color=COLORS[k], fill_alpha=1.0, line_color=None))
    return p


pa = make_panel(0, True, True)
pb = make_panel(1, False, True)
pc = make_panel(2, True, False)
pd = make_panel(3, False, False)

layout = column(row(pa, pb), row(pc, pd))
open("out.html", "w").write(file_html(layout, INLINE))
